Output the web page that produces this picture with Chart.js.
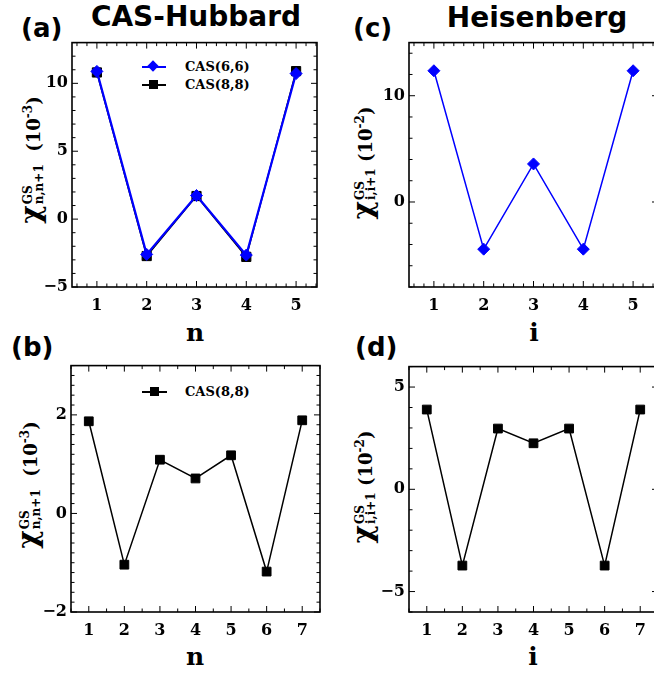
<!DOCTYPE html>
<html><head><meta charset="utf-8">
<script src="https://cdn.jsdelivr.net/npm/chart.js@4"></script>
<style>
html,body{margin:0;padding:0;background:#fff;}
body{width:654px;height:673px;overflow:hidden;position:relative;}
canvas{position:absolute;}
.t{position:absolute;white-space:nowrap;line-height:1;color:#000;}
.panel{font-family:'DejaVu Sans';font-weight:bold;font-size:26px;}
.title{font-family:'DejaVu Sans';font-weight:bold;font-size:28px;text-align:center;width:300px;}
.xt{font-family:'DejaVu Serif';font-weight:bold;font-size:25px;text-align:center;width:40px;}
.yt{position:absolute;white-space:nowrap;font-family:'DejaVu Serif';font-weight:bold;font-size:18px;line-height:26px;transform:translate(-50%,-50%) rotate(-90deg);color:#000;}
.chi{font-size:28px;}
.idx{display:inline-flex;flex-direction:column;font-size:12px;line-height:11px;vertical-align:8px;margin-left:1px;}
.unit sup{font-size:12px;vertical-align:8px;line-height:0;}
.lg{position:absolute;font-family:'DejaVu Serif';font-weight:bold;font-size:13px;line-height:13px;white-space:nowrap;}
.ln{position:absolute;height:2px;}
.mk{position:absolute;}
</style></head>
<body>
<div class="t panel" style="left:21px;top:15px">(a)</div>
<div class="t panel" style="left:11px;top:334px">(b)</div>
<div class="t panel" style="left:353px;top:15px">(c)</div>
<div class="t panel" style="left:355px;top:334px">(d)</div>
<div class="t title" style="left:46px;top:3px">CAS-Hubbard</div>
<div class="t title" style="left:387px;top:4px">Heisenberg</div>
<div class="t xt" style="left:175px;top:320px">n</div>
<div class="t xt" style="left:175px;top:644px">n</div>
<div class="t xt" style="left:514px;top:320px">i</div>
<div class="t xt" style="left:513px;top:644px">i</div>
<div class="yt" style="left:32px;top:160px"><span class="chi">χ</span><span class="idx"><span>GS</span><span>n,n+1</span></span><span class="unit">&nbsp;&nbsp;(10<sup>-3</sup>)</span></div>
<div class="yt" style="left:29px;top:485px"><span class="chi">χ</span><span class="idx"><span>GS</span><span>n,n+1</span></span><span class="unit">&nbsp;&nbsp;(10<sup>-3</sup>)</span></div>
<div class="yt" style="left:364px;top:163px"><span class="chi">χ</span><span class="idx"><span>GS</span><span>i,i+1</span></span><span class="unit">&nbsp;(10<sup>-2</sup>)</span></div>
<div class="yt" style="left:364px;top:487px"><span class="chi">χ</span><span class="idx"><span>GS</span><span>i,i+1</span></span><span class="unit">&nbsp;(10<sup>-2</sup>)</span></div>

<div class="ln" style="left:142px;top:66px;width:24px;background:#0000ff"></div>
<div class="mk" style="left:149px;top:62px;width:8px;height:8px;background:#0000ff;transform:rotate(45deg)"></div>
<div class="lg" style="left:185px;top:60px">CAS(6,6)</div>
<div class="ln" style="left:142px;top:84px;width:24px;background:#000"></div>
<div class="mk" style="left:149px;top:80px;width:9px;height:9px;background:#000"></div>
<div class="lg" style="left:185px;top:78px">CAS(8,8)</div>
<div class="ln" style="left:142px;top:391px;width:25px;background:#000"></div>
<div class="mk" style="left:150px;top:387px;width:9px;height:9px;background:#000"></div>
<div class="lg" style="left:185px;top:385px">CAS(8,8)</div>

<script>
// ---- data ----
const nA = [1, 2, 3, 4, 5];
const cas66A = [10.88, -2.6, 1.74, -2.65, 10.72];
const cas88A = [10.8, -2.72, 1.7, -2.78, 10.9];
const nB = [1, 2, 3, 4, 5, 6, 7];
const cas88B = [1.87, -1.04, 1.09, 0.71, 1.18, -1.18, 1.89];
const iC = [1, 2, 3, 4, 5];
const heisC = [12.35, -4.44, 3.58, -4.44, 12.35];
const iD = [1, 2, 3, 4, 5, 6, 7];
const heisD = [3.9, -3.73, 2.97, 2.25, 2.97, -3.73, 3.9];

// tick labels
const xTicksA = [1, 2, 3, 4, 5];
const yTicksA = [-5, 0, 5, 10];
const xTicksB = [1, 2, 3, 4, 5, 6, 7];
const yTicksB = [-2, 0, 2];
const xTicksC = [1, 2, 3, 4, 5];
const yTicksC = [0, 10];
const xTicksD = [1, 2, 3, 4, 5, 6, 7];
const yTicksD = [-5, 0, 5];

const BLUE = '#0000ff', BLACK = '#000000';
const fmt = v => (v < 0 ? '\u2212' + Math.abs(v) : String(v));
const pts = (xs, ys) => xs.map((x, i) => ({x: x, y: ys[i]}));

const frameTicks = {
  id: 'frameTicks',
  afterDatasetsDraw(chart, args, opts) {
    const ctx = chart.ctx, a = chart.chartArea, xs = chart.scales.x, ys = chart.scales.y;
    ctx.save();
    ctx.strokeStyle = '#000';
    ctx.lineWidth = 1;
    const seg = (x1, y1, x2, y2) => { ctx.beginPath(); ctx.moveTo(x1, y1); ctx.lineTo(x2, y2); ctx.stroke(); };
    const vals = (min, max, step) => { const out = []; for (let k = Math.ceil(min / step - 1e-9); k * step <= max + 1e-9; k++) out.push(k * step); return out; };
    const isMajor = (v, arr) => arr.some(m => Math.abs(m - v) < 1e-6);
    const xt = (v, len) => { const p = xs.getPixelForValue(v); seg(p, a.bottom, p, a.bottom - len); seg(p, a.top, p, a.top + len); };
    const yt = (v, len) => { const p = ys.getPixelForValue(v); seg(a.left, p, a.left + len, p); seg(a.right, p, a.right - len, p); };
    vals(xs.min, xs.max, opts.xMinor).forEach(v => { if (!isMajor(v, opts.xMajor)) xt(v, 3.5); });
    vals(ys.min, ys.max, opts.yMinor).forEach(v => { if (!isMajor(v, opts.yMajor)) yt(v, 3.5); });
    opts.xMajor.forEach(v => xt(v, 6));
    opts.yMajor.forEach(v => yt(v, 6));
    ctx.lineWidth = 1.6;
    ctx.strokeRect(a.left, a.top, a.right - a.left, a.bottom - a.top);
    ctx.restore();
  }
};

const tickFont = {family: 'DejaVu Serif', weight: 'bold', size: 16};

function makePanel(area, xr, yr, xTicks, yTicks, xMinor, yMinor, datasets) {
  const cv = document.createElement('canvas');
  const W = area.R - area.L + 80, H = area.B - area.T + 50;
  cv.width = W; cv.height = H;
  cv.style.width = W + 'px'; cv.style.height = H + 'px';
  cv.style.left = (area.L - 70) + 'px'; cv.style.top = (area.T - 10) + 'px';
  document.body.appendChild(cv);
  new Chart(cv, {
    type: 'line',
    data: {datasets: datasets},
    plugins: [frameTicks],
    options: {
      responsive: false, animation: false, devicePixelRatio: 1, events: [],
      layout: {padding: {left: 0, top: 10, right: 10, bottom: 0}},
      plugins: {legend: {display: false}, tooltip: {enabled: false},
        frameTicks: {xMajor: xTicks, yMajor: yTicks, xMinor: xMinor, yMinor: yMinor}},
      scales: {
        x: {type: 'linear', min: xr[0], max: xr[1],
          grid: {display: false, drawTicks: false}, border: {display: false},
          afterBuildTicks: s => { s.ticks = xTicks.map(v => ({value: v})); },
          afterFit: s => { s.height = 40; },
          ticks: {font: tickFont, color: '#000', padding: 9, maxRotation: 0, autoSkip: false, callback: v => fmt(v)}},
        y: {type: 'linear', min: yr[0], max: yr[1],
          grid: {display: false, drawTicks: false}, border: {display: false},
          afterBuildTicks: s => { s.ticks = yTicks.map(v => ({value: v})); },
          afterFit: s => { s.width = 70; },
          ticks: {font: tickFont, color: '#000', padding: 4, autoSkip: false, callback: v => fmt(v)}}
      }
    }
  });
}

makePanel({L: 72, T: 39, R: 317, B: 287}, [0.5, 5.42], [-5, 13], xTicksA, yTicksA, 0.2, 1, [
  {label: 'CAS(6,6)', data: pts(nA, cas66A), borderColor: BLUE, backgroundColor: BLUE, borderWidth: 2.2,
   pointStyle: 'rectRot', pointRadius: 6, pointBorderWidth: 1, pointBackgroundColor: BLUE, pointBorderColor: BLUE, tension: 0},
  {label: 'CAS(8,8)', data: pts(nA, cas88A), borderColor: BLACK, backgroundColor: BLACK, borderWidth: 1.5,
   pointStyle: 'rect', pointRadius: 6.5, pointBorderWidth: 1, pointBackgroundColor: BLACK, pointBorderColor: BLACK, tension: 0}
]);
makePanel({L: 71, T: 362, R: 320, B: 612}, [0.5, 7.5], [-2, 3], xTicksB, yTicksB, 0.5, 0.2, [
  {label: 'CAS(8,8)', data: pts(nB, cas88B), borderColor: BLACK, backgroundColor: BLACK, borderWidth: 1.5,
   pointStyle: 'rect', pointRadius: 6.2, pointBorderWidth: 1, pointBackgroundColor: BLACK, pointBorderColor: BLACK, tension: 0}
]);
makePanel({L: 409, T: 39, R: 658, B: 287}, [0.5, 5.5], [-8, 15], xTicksC, yTicksC, 0.2, 2, [
  {label: 'Heisenberg', data: pts(iC, heisC), borderColor: BLUE, backgroundColor: BLUE, borderWidth: 1.5,
   pointStyle: 'rectRot', pointRadius: 6, pointBorderWidth: 1, pointBackgroundColor: BLUE, pointBorderColor: BLUE, tension: 0}
]);
makePanel({L: 409, T: 363, R: 658, B: 612}, [0.5, 7.5], [-6, 6], xTicksD, yTicksD, 0.5, 1, [
  {label: 'Heisenberg', data: pts(iD, heisD), borderColor: BLACK, backgroundColor: BLACK, borderWidth: 1.5,
   pointStyle: 'rect', pointRadius: 6.2, pointBorderWidth: 1, pointBackgroundColor: BLACK, pointBorderColor: BLACK, tension: 0}
]);
</script>
</body></html>
